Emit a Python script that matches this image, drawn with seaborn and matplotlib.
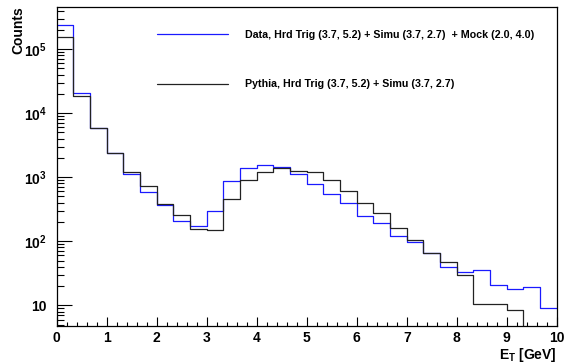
import numpy as np
import pandas as pd
import matplotlib
matplotlib.use('Agg')
import matplotlib.pyplot as plt
import seaborn as sns
from matplotlib.ticker import FixedLocator, FixedFormatter, MultipleLocator, LogLocator, NullFormatter

# histogram contents, 30 bins from 0 to 10 GeV
bin_edges = list(np.linspace(0, 10, 31))
data_counts = [240000, 20500, 5830, 2370, 1110, 583, 369, 205, 170, 295,
               875, 1383, 1540, 1430, 1127, 776, 542, 401, 246, 191,
               121, 97, 65, 40, 33, 36, 21, 18, 19.5, 9.2]
pythia_counts = [157000, 18700, 5800, 2370, 1220, 740, 387, 261, 157, 150,
                 458, 907, 1210, 1383, 1270, 1224, 918, 618, 401, 274,
                 162, 105, 65, 47, 30, 10.4, 10.4, 8.4, 0, 0]
labels = ['Data, Hrd Trig (3.7, 5.2) + Simu (3.7, 2.7)  + Mock (2.0, 4.0)',
          'Pythia, Hrd Trig (3.7, 5.2) + Simu (3.7, 2.7)']
colors = ['#1a1aff', '#222222']
y_ticks = [10, 100, 1000, 10000, 100000]
y_ticklabels = ['10', '$10^{2}$', '$10^{3}$', '$10^{4}$', '$10^{5}$']

edges = np.array(bin_edges)
centers = (edges[:-1] + edges[1:]) / 2
df = pd.DataFrame({
    'et': np.concatenate([centers, centers]),
    'count': data_counts + pythia_counts,
    'sample': [labels[0]] * 30 + [labels[1]] * 30,
})

sns.set_style('white')
plt.rcParams['font.family'] = ['Liberation Sans', 'DejaVu Sans']
plt.rcParams['text.color'] = 'black'
plt.rcParams['axes.labelcolor'] = 'black'
plt.rcParams['xtick.color'] = 'black'
plt.rcParams['ytick.color'] = 'black'
plt.rcParams['mathtext.fontset'] = 'custom'
plt.rcParams['mathtext.rm'] = 'Liberation Sans:bold'
plt.rcParams['mathtext.bf'] = 'Liberation Sans:bold'
plt.rcParams['mathtext.default'] = 'bf'

fig = plt.figure(figsize=(5.67, 3.64), dpi=100)
ax = fig.add_axes([0.1, 0.1052, 0.882, 0.8764])

for lab, col in zip(labels, colors):
    sub = df[df['sample'] == lab]
    sns.histplot(data=sub, x='et', weights='count', bins=bin_edges,
                 element='step', fill=False, color=col, linewidth=0.9, ax=ax, label=lab)

ax.set_yscale('log')
ax.set_xlim(0, 10)
ax.set_ylim(4.8, 4.6e5)

ax.yaxis.set_major_locator(FixedLocator(y_ticks))
ax.yaxis.set_major_formatter(FixedFormatter(y_ticklabels))
ax.yaxis.set_minor_locator(LogLocator(base=10, subs=np.arange(2, 10)))
ax.yaxis.set_minor_formatter(NullFormatter())
ax.xaxis.set_major_locator(MultipleLocator(1))
ax.xaxis.set_minor_locator(MultipleLocator(0.2))

ax.tick_params(left=True, bottom=True, right=False, top=False, which='both')
ax.tick_params(axis='y', which='major', direction='in', length=11, width=0.8, pad=7, labelsize=10)
ax.tick_params(axis='y', which='minor', direction='in', length=5, width=0.8)
ax.tick_params(axis='x', which='major', direction='in', length=6.5, width=0.8, pad=4, labelsize=10)
ax.tick_params(axis='x', which='minor', direction='in', length=3, width=0.8)
for lbl in ax.get_xticklabels() + ax.get_yticklabels():
    lbl.set_fontweight('bold')
for sp in ax.spines.values():
    sp.set_color('black')
    sp.set_linewidth(0.9)

ax.set_xlabel('E$_{\\mathrm{T}}$ [GeV]', fontsize=10, fontweight='bold', loc='right')
ax.xaxis.set_label_coords(1.0, -0.064)
ax.xaxis.label.set_va('top')
ax.set_ylabel('Counts', fontsize=10, fontweight='bold', loc='top')
ax.yaxis.set_label_coords(-0.063, 1.0)

ax.legend(loc='upper left', bbox_to_anchor=(0.2006, 0.927), frameon=False,
          prop={'weight': 'bold', 'size': 7.7}, handlelength=6.65,
          handletextpad=1.6, labelspacing=3.68, borderpad=0, borderaxespad=0)

fig.savefig('out.png', dpi=100)
